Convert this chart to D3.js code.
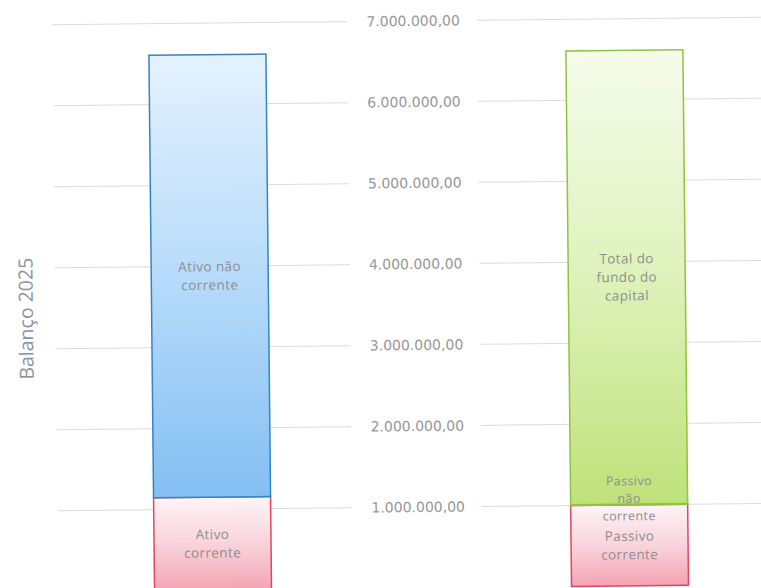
<!DOCTYPE html>
<html>
<head>
<meta charset="utf-8">
<script src="https://cdn.jsdelivr.net/npm/d3@7/dist/d3.min.js"></script>
<style>
  html, body { margin: 0; padding: 0; background: #ffffff; }
  svg { display: block; }
</style>
</head>
<body>
<svg id="chart" width="761" height="588"></svg>
<script>
// Balanço 2025 — two stacked columns (assets vs. liabilities + equity)
const categories = ["Ativo", "Passivo"];

// Segments of each column, bottom to top ("\n" marks label line breaks)
const ativoLabels = ["Ativo\ncorrente", "Ativo não\ncorrente"];
const ativoValues = [1150000, 5460000];
const ativoKinds  = ["corrente", "naoCorrenteAtivo"];

const passivoLabels = ["Passivo\ncorrente", "Passivo\nnão\ncorrente", "Total do\nfundo do\ncapital"];
const passivoValues = [1000000, 10000, 5600000];
const passivoKinds  = ["corrente", "capital", "capital"];

const yTicks = [1000000, 2000000, 3000000, 4000000, 5000000, 6000000, 7000000];
const axisTitle = "Balanço 2025";

const svg = d3.select("#chart");

const ptLocale = d3.formatLocale({ decimal: ",", thousands: ".", grouping: [3], currency: ["", " €"] });
const fmt = ptLocale.format(",.2f");

const y = d3.scaleLinear().domain([0, 7000000]).range([588.5, 21.3]);
const x = d3.scalePoint().domain(categories).range([210, 627]);
const barW = 117;

const palette = {
  naoCorrenteAtivo: { top: "#e4f2fe", mid: "#b7dbfa", bottom: "#84bff2", stroke: "#3584c6" },
  corrente:         { top: "#fdf4f7", mid: "#f9d3dc", bottom: "#f4a3b3", stroke: "#e04662" },
  capital:          { top: "#f6fcec", mid: "#def2bb", bottom: "#bfe17a", stroke: "#8fc43c" }
};

const defs = svg.append("defs");
Object.entries(palette).forEach(([k, c]) => {
  const g = defs.append("linearGradient").attr("id", "grad-" + k)
    .attr("x1", 0).attr("y1", 0).attr("x2", 0).attr("y2", 1);
  g.append("stop").attr("offset", "0%").attr("stop-color", c.top);
  g.append("stop").attr("offset", "50%").attr("stop-color", c.mid);
  g.append("stop").attr("offset", "100%").attr("stop-color", c.bottom);
});

// slight tilt of the whole sheet
const root = svg.append("g").attr("transform", "rotate(-0.6 380 300)");

// gridlines, interrupted around the central value axis
const grid = root.append("g");
const gridSegs = [[55, 350], [480, 800]];
yTicks.forEach(t => {
  gridSegs.forEach(([a, b]) => {
    grid.append("line")
      .attr("x1", a).attr("x2", b)
      .attr("y1", y(t)).attr("y2", y(t))
      .attr("stroke", "#dcdcdc").attr("stroke-width", 1);
  });
});

// value axis in the middle of the chart
const axisG = root.append("g").attr("transform", "translate(416,0)");
const axis = d3.axisRight(y).tickValues(yTicks).tickFormat(fmt).tickSize(0).tickPadding(0);
axisG.call(axis);
axisG.select(".domain").remove();
axisG.selectAll("text")
  .attr("text-anchor", "middle")
  .attr("x", 0)
  .attr("fill", "#979797")
  .style("font-family", "'DejaVu Sans', sans-serif")
  .style("font-size", "14px");

// stacked columns
function drawColumn(cat, labels, values, kinds) {
  let acc = 0;
  const segs = values.map((v, i) => {
    const s = { label: labels[i], kind: kinds[i], y0: acc, y1: acc + v };
    acc += v;
    return s;
  });
  const g = root.append("g");
  const cx = x(cat);
  g.selectAll("rect").data(segs).join("rect")
    .attr("x", cx - barW / 2)
    .attr("width", barW)
    .attr("y", d => y(d.y1))
    .attr("height", d => y(d.y0) - y(d.y1))
    .attr("fill", d => `url(#grad-${d.kind})`)
    .attr("stroke", d => palette[d.kind].stroke)
    .attr("stroke-width", 1.5);
  segs.forEach(d => {
    const lines = d.label.split("\n");
    const thin = (y(d.y0) - y(d.y1)) < 20;
    // a label on a very thin segment is set a bit smaller and higher
    const lh = thin ? 17.5 : 18.5;
    const mid = (y(d.y0) + y(d.y1)) / 2 - (thin ? 6 : 0);
    const t = g.append("text")
      .attr("text-anchor", "middle")
      .attr("fill", "#8e8e8e")
      .style("font-family", "'Open Sans', sans-serif")
      .style("font-size", thin ? "12.5px" : "13.5px")
      .style("letter-spacing", "0.4px");
    lines.forEach((ln, i) => {
      t.append("tspan")
        .attr("x", cx)
        .attr("y", mid + (i - (lines.length - 1) / 2) * lh)
        .attr("dy", "0.35em")
        .text(ln);
    });
  });
}
drawColumn("Ativo", ativoLabels, ativoValues, ativoKinds);
drawColumn("Passivo", passivoLabels, passivoValues, passivoKinds);

// vertical axis title
root.append("text")
  .attr("transform", "translate(26,315) rotate(-90)")
  .attr("text-anchor", "middle")
  .attr("dy", "0.35em")
  .attr("fill", "#8a93a2")
  .style("font-family", "'Open Sans', sans-serif")
  .style("font-size", "19.5px")
  .text(axisTitle);
</script>
</body>
</html>
